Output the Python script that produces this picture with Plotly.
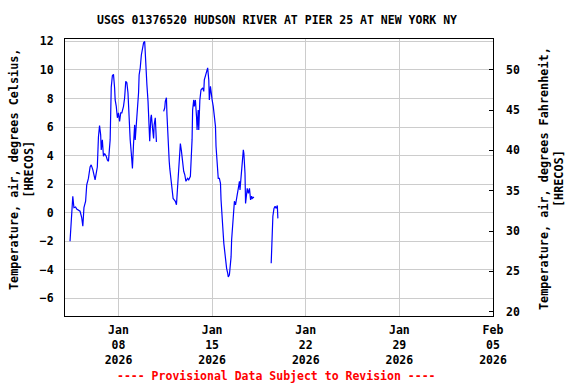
import plotly.graph_objects as go
import pandas as pd

# Hours since 2026-01-04 00:00 (EST) and air temperature in deg C; None marks data gaps
hours_since_jan04 = [
    9, 11, 14, 16, 19, 21, 24, 27, 30, 32, 34, 37, 39, 42, 45, 47, 50, 52, 54, 56,
    58, 60, 62, 64, 65, 67, 69, 71, 74, 76, 78, 81, 83, 85, 87, 89, 90, 92, 94, 96,
    98, 100, 102, 105, 107, 109, 111, 113, 115, 117, 119, 121, 123, 125, 126, 128, 130, 132, 133, 135,
    137, 139, 141, 143, 144, 146, 147, 149, 151, 152, 154, 155, 157, 159, 160, 162, 164, 165,
    171,
    177, 179, 180, 182, 183, 185, 187, 188, 190, 192, 194, 196, 198, 200, 202, 204, 206, 207, 209, 210,
    213, 215, 217, 220, 222, 225, 227, 228, 229, 231, 232, 234, 236, 237, 239, 240, 242, 244, 247, 249,
    250, 252, 254, 256, 258, 259, 261, 262, 264, 266, 268, 270, 271, 273, 275, 277, 279, 280, 282, 283,
    285, 287, 288, 290, 292, 293, 295, 296, 298, 299, 301, 303, 304, 306, 308, 309, 311, 313, 314, 316,
    318, 320, 321, 323, 324, 326, 327, 329, 331, 333, 335, 336, 339,
    355,
    370, 371, 372, 373, 375, 377, 379, 381, 382,
]
temp_c = [
    -2.0, -0.4, 1.15, 0.35, 0.4, 0.25, 0.2, 0.1, -0.35, -0.95, 0.35, 0.8, 1.95, 2.4, 3.2, 3.35, 3.0, 2.55, 2.3, 2.75,
    3.2, 5.3, 6.1, 5.45, 4.4, 5.1, 3.95, 4.15, 3.95, 3.7, 3.6, 5.1, 8.8, 9.6, 9.7, 8.75, 7.9, 7.45, 6.65, 7.0,
    6.4, 7.0, 7.0, 7.45, 8.05, 9.2, 9.1, 8.4, 6.05, 5.1, 4.15, 3.1, 4.85, 6.15, 5.1, 6.05, 7.0, 8.4, 9.65, 10.15,
    11.05, 11.55, 11.9, 12.0, 11.05, 10.15, 8.95, 7.8, 6.4, 5.0, 6.65, 6.85, 5.95, 5.2, 6.15, 6.65, 5.0, 5.0,
    None,
    7.1, 7.35, 7.8, 8.05, 6.85, 4.5, 3.6, 3.1, 2.2, 1.5, 1.0, 0.9, 0.8, 0.55, 1.95, 3.6, 4.5, 4.85, 4.3, 3.8,
    2.9, 2.65, 2.2, 2.4, 2.3, 2.55, 3.95, 5.1, 7.2, 7.9, 7.45, 7.9, 6.75, 5.8, 7.2, 5.8, 7.9, 8.6, 8.75, 8.5,
    9.3, 9.55, 9.9, 10.15, 9.3, 7.9, 8.85, 8.4, 7.9, 7.45, 6.5, 6.05, 4.65, 3.5, 2.4, 2.4, 2.05, 0.9, 0.0, -0.95,
    -2.15, -2.85, -3.55, -3.9, -4.25, -4.5, -4.35, -3.9, -3.1, -1.9, -0.5, 0.1, 0.8, 0.55, 0.9, 1.25, 1.7, 2.2, 1.6, 2.75,
    3.7, 4.4, 4.15, 2.75, 0.65, 1.6, 1.7, 1.35, 1.7, 0.9, 1.15, 1.0, 1.1,
    None,
    -3.55, -2.15, -0.95, -0.25, 0.3, 0.45, 0.3, 0.5, -0.4,
]

start_time = "2026-01-04 00:00"
x_range = ["2026-01-04 00:00", "2026-02-05 00:01"]
date_ticks = ["2026-01-08", "2026-01-15", "2026-01-22", "2026-01-29", "2026-02-05"]
date_tick_labels = ["Jan<br>08<br>2026", "Jan<br>15<br>2026", "Jan<br>22<br>2026",
                    "Jan<br>29<br>2026", "Feb<br>05<br>2026"]
c_ticks = [-6, -4, -2, 0, 2, 4, 6, 8, 10, 12]
f_ticks = [20, 25, 30, 35, 40, 45, 50]
c_range = [-7.24, 12.17]
f_range = [19.47, 53.81]

title_text = "USGS 01376520 HUDSON RIVER AT PIER 25 AT NEW YORK NY"
left_title = "Temperature, air, degrees Celsius,<br>[HRECOS]"
right_title = "Temperature, air, degrees Fahrenheit,<br>[HRECOS]"
footer_text = "---- Provisional Data Subject to Revision ----"

times = pd.Timestamp(start_time) + pd.to_timedelta(hours_since_jan04, unit="h")
temp_f = [None if v is None else v * 1.8 + 32 for v in temp_c]

FONT = "DejaVu Sans Mono"
fnt = dict(family=FONT, size=11.5, color="black", weight="bold")
title_fnt = dict(family=FONT, size=11.8, color="black", weight="bold")

fig = go.Figure()
fig.add_trace(go.Scatter(x=times, y=temp_c, mode="lines", connectgaps=False,
                         line=dict(color="#0000ff", width=1.2), hoverinfo="skip",
                         showlegend=False))
fig.add_trace(go.Scatter(x=times, y=temp_f, mode="lines", connectgaps=False,
                         line=dict(color="rgba(0,0,0,0)", width=1), hoverinfo="skip",
                         showlegend=False, yaxis="y2"))

fig.update_layout(
    width=576, height=384,
    margin=dict(l=65, r=83, t=39, b=68, pad=0),
    paper_bgcolor="white", plot_bgcolor="white",
    font=fnt,
    xaxis=dict(type="date", range=x_range, tickvals=date_ticks, ticktext=date_tick_labels,
               showgrid=True, gridcolor="#cccccc", gridwidth=1, zeroline=False,
               showline=True, linecolor="black", linewidth=1, mirror=True,
               ticks="", tickfont=fnt, ticklabelstandoff=3),
    yaxis=dict(range=c_range, tickvals=c_ticks, showgrid=True, gridcolor="#cccccc",
               gridwidth=1, zeroline=False, showline=True, linecolor="black",
               linewidth=1, mirror=True, ticks="", tickfont=fnt, ticklabelstandoff=8),
    yaxis2=dict(range=f_range, tickvals=f_ticks, overlaying="y", side="right",
                showgrid=False, zeroline=False, showline=False, ticks="inside",
                ticklen=4, tickcolor="black", tickfont=fnt, ticklabelstandoff=12),
    annotations=[
        dict(text=title_text, xref="paper", yref="paper", x=0.495, y=1.0686,
             xanchor="center", yanchor="middle", showarrow=False, font=fnt),
        dict(text=footer_text, xref="paper", yref="paper", x=0.495, y=-0.2166,
             xanchor="center", yanchor="middle", showarrow=False,
             font=dict(family=FONT, size=11.5, color="red", weight="bold")),
        dict(text=left_title, xref="paper", yref="paper", x=-0.1028, y=0.527,
             xanchor="center", yanchor="middle", showarrow=False, textangle=-90,
             font=title_fnt),
        dict(text=right_title, xref="paper", yref="paper", x=1.1355, y=0.498,
             xanchor="center", yanchor="middle", showarrow=False, textangle=-90,
             font=title_fnt),
    ],
)

fig.write_html("out.html", config={"displayModeBar": False},
               post_script="document.body.style.margin='0';document.body.style.padding='0';")
